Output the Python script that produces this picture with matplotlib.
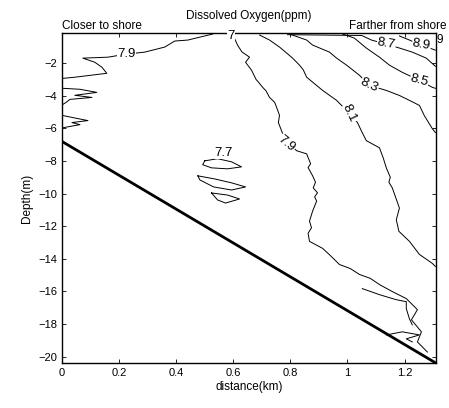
import numpy as np
import matplotlib
matplotlib.use("Agg")
import matplotlib.pyplot as plt

plt.rcParams['font.family'] = ['Liberation Sans', 'DejaVu Sans']

# contour lines of dissolved oxygen (ppm): distance (km), depth (m)
c79_left_x = [0.528, 0.483, 0.441, 0.395, 0.360, 0.290, 0.227, 0.161, 0.073, 0.115, 0.140, 0.157, 0.045, 0.003]
c79_left_d = [-0.21, -0.40, -0.58, -0.64, -1.01, -1.32, -1.44, -1.63, -1.69, -1.94, -2.25, -2.62, -2.86, -2.93]

spike_a_x = [0.003, 0.063, 0.122, 0.045, 0.105, 0.028, 0.014, 0.003]
spike_a_d = [-3.54, -3.60, -3.79, -3.97, -4.10, -4.22, -4.41, -4.53]
spike_b_x = [0.003, 0.056, 0.091, 0.035, 0.063, 0.003]
spike_b_d = [-5.21, -5.40, -5.52, -5.64, -5.77, -5.96]

c79_x = [0.598, 0.605, 0.615, 0.630, 0.657, 0.643, 0.664, 0.680, 0.690, 0.703, 0.715, 0.727, 0.745,
         0.752, 0.762, 0.758, 0.773, 0.800, 0.822, 0.857, 0.871, 0.862, 0.878, 0.888, 0.880, 0.895,
         0.885, 0.892, 0.878, 0.867, 0.874, 0.862, 0.867, 0.913, 0.940, 0.972, 1.010, 1.042, 1.080,
         1.112, 1.157, 1.206, 1.245, 1.224, 1.259, 1.245, 1.280]
c79_d = [-0.15, -0.50, -0.89, -1.30, -1.63, -1.94, -2.43, -3.00, -3.20, -3.48, -3.70, -4.10, -4.40,
         -4.72, -5.20, -5.64, -6.32, -7.00, -7.37, -7.56, -8.17, -8.40, -8.91, -9.30, -9.65, -9.95,
         -10.20, -10.46, -11.07, -11.69, -12.10, -12.43, -12.93, -13.36, -13.80, -14.35, -14.60,
         -14.96, -15.20, -15.58, -16.01, -16.44, -17.12, -17.74, -18.48, -19.10, -19.72]

streak1_x = [1.052, 1.112, 1.171, 1.206, 1.206, 1.217, 1.227]
streak1_d = [-15.83, -16.20, -16.51, -16.63, -17.06, -17.68, -18.05]
streak2_x = [1.136, 1.192, 1.252, 1.206, 1.227]
streak2_d = [-18.67, -18.48, -18.67, -18.91, -19.10]

c77_1_x = [0.500, 0.545, 0.594, 0.629, 0.580, 0.524, 0.493, 0.500]
c77_1_d = [-7.99, -7.86, -8.05, -8.36, -8.48, -8.42, -8.23, -7.99]
c77_2_x = [0.476, 0.535, 0.594, 0.643, 0.594, 0.531, 0.483, 0.476]
c77_2_d = [-8.91, -9.10, -9.34, -9.59, -9.78, -9.59, -9.16, -8.91]
c77_3_x = [0.524, 0.580, 0.622, 0.573, 0.545, 0.524]
c77_3_d = [-9.96, -10.09, -10.33, -10.58, -10.39, -9.96]

c81_x = [0.692, 0.727, 0.762, 0.808, 0.832, 0.845, 0.857, 0.913, 0.962, 0.990, 1.035, 1.050, 1.066,
         1.112, 1.125, 1.136, 1.150, 1.145, 1.157, 1.182, 1.171, 1.180, 1.217, 1.252, 1.297, 1.308]
c81_d = [-0.27, -0.58, -1.01, -1.69, -2.12, -2.40, -2.86, -3.67, -4.28, -4.78, -5.64, -6.20, -6.75,
         -7.19, -7.80, -8.42, -9.00, -9.30, -9.65, -10.89, -11.60, -12.31, -12.93, -13.73, -14.28, -14.47]

c83_x = [0.797, 0.857, 0.878, 0.937, 0.962, 0.997, 1.042, 1.077, 1.136, 1.182, 1.217, 1.252, 1.269, 1.297, 1.308]
c83_d = [-0.21, -0.58, -0.89, -1.32, -1.69, -2.12, -2.74, -3.36, -3.67, -3.98, -4.28, -4.59, -5.21, -6.01, -6.26]

c85_x = [0.983, 1.024, 1.066, 1.112, 1.147, 1.192, 1.252, 1.297, 1.308]
c85_d = [-0.21, -0.46, -1.07, -1.63, -2.12, -2.56, -3.05, -3.48, -3.54]

c87_x = [0.79, 1.05, 1.084, 1.136, 1.182, 1.227, 1.276, 1.308]
c87_d = [-0.25, -0.30, -0.58, -0.83, -1.07, -1.32, -1.69, -2.19]

c89_x = [1.182, 1.217, 1.259, 1.308]
c89_d = [-0.33, -0.58, -0.89, -1.20]

# sea floor
bottom_x = [0.0, 1.31]
bottom_d = [-6.8, -20.4]

# contour labels: text, x, depth, rotation
labels = [("7.9", 0.227, -1.44, 0), ("7.9", 0.787, -6.94, -40), ("7.7", 0.566, -7.50, 0),
          ("8.1", 1.007, -5.09, -65), ("8.3", 1.077, -3.36, -25), ("8.5", 1.252, -3.05, -15),
          ("8.7", 1.136, -0.83, -10), ("8.9", 1.259, -0.89, -10), ("7", 0.592, -0.35, 0)]

fig = plt.figure(figsize=(4.49, 4.08), dpi=100)
ax = fig.add_axes([0.138, 0.110, 0.833, 0.809])

lines = [(c79_left_x, c79_left_d), (spike_a_x, spike_a_d), (spike_b_x, spike_b_d),
         (c79_x, c79_d), (streak1_x, streak1_d), (streak2_x, streak2_d),
         (c77_1_x, c77_1_d), (c77_2_x, c77_2_d), (c77_3_x, c77_3_d),
         (c81_x, c81_d), (c83_x, c83_d), (c85_x, c85_d), (c87_x, c87_d), (c89_x, c89_d)]
for lx, ld in lines:
    ax.plot(lx, ld, color='black', lw=0.7)

ax.plot(bottom_x, bottom_d, color='black', lw=2.0)

for txt, lx, ld, rot in labels:
    ax.text(lx, ld, txt, fontsize=9.5, rotation=rot, ha='center', va='center',
            bbox=dict(facecolor='white', edgecolor='none', pad=0.3))
ax.text(1.322, -0.2, "9", fontsize=8.5, ha='center', va='top', clip_on=False)

ax.set_xlim(0, 1.31)
ax.set_ylim(-20.4, -0.15)
ax.set_xticks([0, 0.2, 0.4, 0.6, 0.8, 1, 1.2])
ax.set_xticklabels(['0', '0.2', '0.4', '0.6', '0.8', '1', '1.2'])
ax.set_yticks(np.arange(-20, -1, 2))
ax.tick_params(direction='in', top=True, right=True, length=3, labelsize=8, width=0.6)
for s in ax.spines.values():
    s.set_linewidth(1.0)

ax.set_xlabel("distance(km)", fontsize=8.5, labelpad=2)
ax.set_ylabel("Depth(m)", fontsize=8.5, labelpad=4)
ax.set_title("Dissolved Oxygen(ppm)", fontsize=8.5, pad=10)
ax.text(0.0, 1.004, "Closer to shore", transform=ax.transAxes, fontsize=8.5, ha='left', va='bottom')
ax.text(1.027, 1.004, "Farther from shore", transform=ax.transAxes, fontsize=8.5, ha='right', va='bottom')

fig.savefig("out.png", dpi=100)
